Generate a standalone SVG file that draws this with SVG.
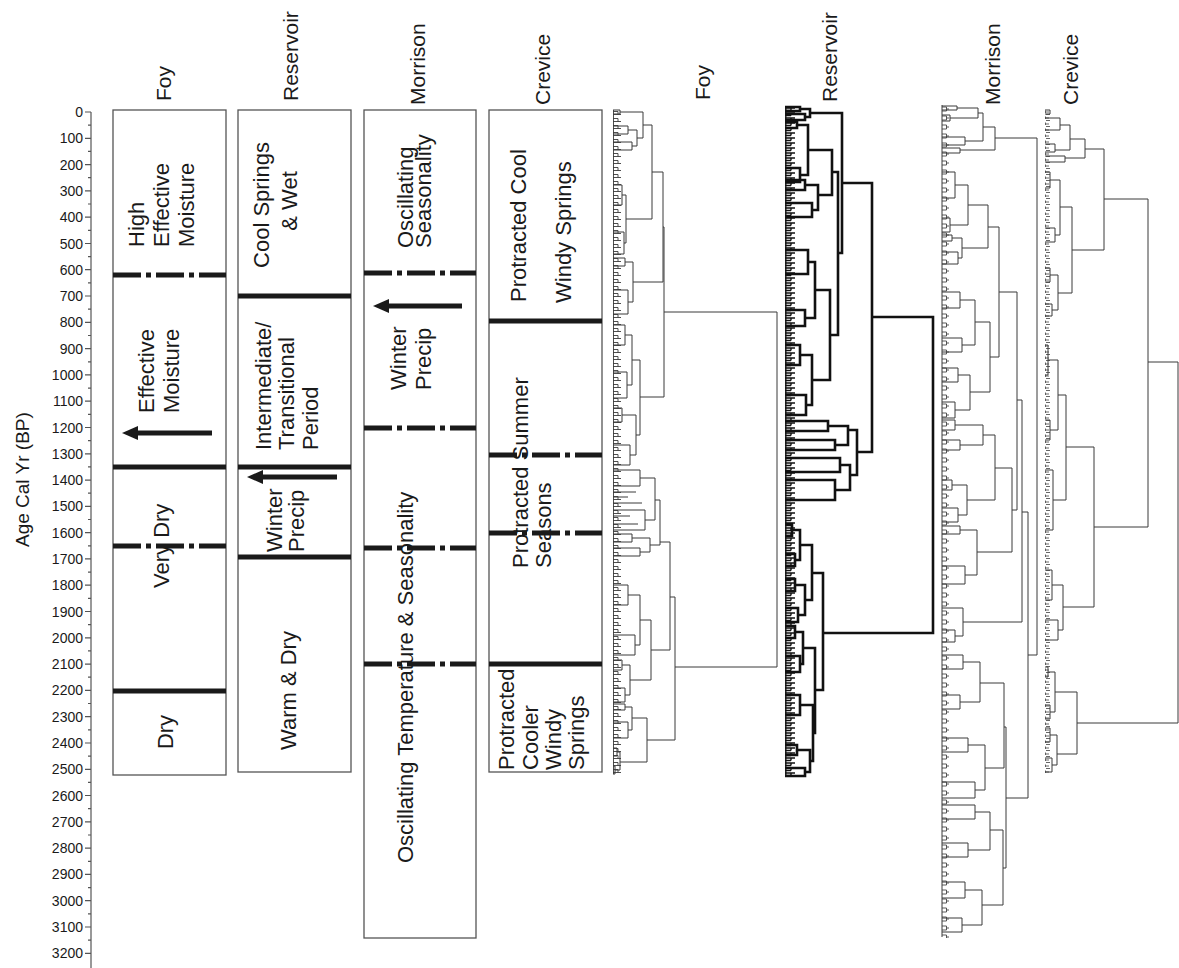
<svg xmlns="http://www.w3.org/2000/svg" width="1179" height="968" viewBox="0 0 1179 968">
<style>
.bg{fill:#fff}
.box{fill:#fff;stroke:#555;stroke-width:1.3}
.solid{stroke:#1a1a1a;stroke-width:5;fill:none}
.dd{stroke:#1a1a1a;stroke-width:5;stroke-dasharray:28 5 5 5;fill:none}
.t{font-family:"Liberation Sans",Arial,sans-serif;font-size:22px;fill:#1a1a1a}
.m{text-anchor:middle}
.h{font-family:"Liberation Sans",Arial,sans-serif;font-size:21px;fill:#1a1a1a}
.ax{font-family:"Liberation Sans Narrow","Liberation Sans",Arial,sans-serif;font-size:14px;fill:#1a1a1a;text-anchor:end}
.tick{stroke:#555;stroke-width:1.2;fill:none}
.dg{fill:none;stroke:#3a3a3a;stroke-width:1}
.dgR{fill:none;stroke:#111;stroke-width:2.6}
.arr{stroke:#1a1a1a;stroke-width:5}
.ah{fill:#1a1a1a}
</style>
<defs>
<pattern id="pFoy" patternUnits="userSpaceOnUse" x="613" y="110" width="9" height="7">
<path d="M0.5 0V7M0 1.5H5M0 4.5H8M5 1.5V4.5" fill="none" stroke="#3a3a3a" stroke-width="0.9"/>
</pattern>
<pattern id="pRes" patternUnits="userSpaceOnUse" x="785" y="107" width="14" height="5">
<path d="M0 1H10M0 3.5H6M6 1V3.5M0.8 0V5" fill="none" stroke="#111" stroke-width="1.4"/>
</pattern>
<pattern id="pMor" patternUnits="userSpaceOnUse" x="942" y="105" width="8" height="9">
<path d="M0 2H4.5M0 6H4.5M4.5 2V6M4.5 4H7" fill="none" stroke="#444" stroke-width="0.9"/>
</pattern>
<pattern id="pCre" patternUnits="userSpaceOnUse" x="1045" y="110" width="7" height="6">
<path d="M0.5 0.5V3M0 2H4M1 4.5H5" fill="none" stroke="#555" stroke-width="0.9"/>
</pattern>
</defs>
<rect class="bg" x="0" y="0" width="1179" height="968"/>

<g id="axis">
<path class="tick" d="M91 112V968"/>
<path class="tick" d="M85 112H91M85 138.3H91M85 164.6H91M85 190.9H91M85 217.2H91M85 243.5H91M85 269.7H91M85 296H91M85 322.3H91M85 348.6H91M85 374.9H91M85 401.2H91M85 427.5H91M85 453.8H91M85 480.1H91M85 506.4H91M85 532.6H91M85 558.9H91M85 585.2H91M85 611.5H91M85 637.8H91M85 664.1H91M85 690.4H91M85 716.7H91M85 743H91M85 769.3H91M85 795.5H91M85 821.8H91M85 848.1H91M85 874.4H91M85 900.7H91M85 927H91M85 953.3H91"/>
<path class="tick" d="M88 125.1H91M88 151.4H91M88 177.7H91M88 204H91M88 230.3H91M88 256.6H91M88 282.9H91M88 309.2H91M88 335.5H91M88 361.8H91M88 388.1H91M88 414.3H91M88 440.6H91M88 466.9H91M88 493.2H91M88 519.5H91M88 545.8H91M88 572.1H91M88 598.4H91M88 624.6H91M88 650.9H91M88 677.2H91M88 703.5H91M88 729.8H91M88 756.1H91M88 782.4H91M88 808.7H91M88 835H91M88 861.3H91M88 887.6H91M88 913.8H91M88 940.1H91"/>
<text class="ax" x="83" y="117">0</text>
<text class="ax" x="83" y="143.3">100</text>
<text class="ax" x="83" y="169.6">200</text>
<text class="ax" x="83" y="195.9">300</text>
<text class="ax" x="83" y="222.2">400</text>
<text class="ax" x="83" y="248.5">500</text>
<text class="ax" x="83" y="274.7">600</text>
<text class="ax" x="83" y="301">700</text>
<text class="ax" x="83" y="327.3">800</text>
<text class="ax" x="83" y="353.6">900</text>
<text class="ax" x="83" y="379.9">1000</text>
<text class="ax" x="83" y="406.2">1100</text>
<text class="ax" x="83" y="432.5">1200</text>
<text class="ax" x="83" y="458.8">1300</text>
<text class="ax" x="83" y="485.1">1400</text>
<text class="ax" x="83" y="511.4">1500</text>
<text class="ax" x="83" y="537.6">1600</text>
<text class="ax" x="83" y="563.9">1700</text>
<text class="ax" x="83" y="590.2">1800</text>
<text class="ax" x="83" y="616.5">1900</text>
<text class="ax" x="83" y="642.8">2000</text>
<text class="ax" x="83" y="669.1">2100</text>
<text class="ax" x="83" y="695.4">2200</text>
<text class="ax" x="83" y="721.7">2300</text>
<text class="ax" x="83" y="748">2400</text>
<text class="ax" x="83" y="774.3">2500</text>
<text class="ax" x="83" y="800.5">2600</text>
<text class="ax" x="83" y="826.8">2700</text>
<text class="ax" x="83" y="853.1">2800</text>
<text class="ax" x="83" y="879.4">2900</text>
<text class="ax" x="83" y="905.7">3000</text>
<text class="ax" x="83" y="932">3100</text>
<text class="ax" x="83" y="958.3">3200</text>
<text class="t" style="font-size:19px" transform="translate(29,547) rotate(-90)">Age Cal Yr (BP)</text>
</g>

<g id="col-foy">
<text class="h" transform="translate(171,101) rotate(-90)">Foy</text>
<rect class="box" x="113" y="110" width="113" height="665"/>
<path class="dd" d="M113 275H226"/>
<path class="solid" d="M113 467H226"/>
<path class="dd" d="M113 546H226"/>
<path class="solid" d="M113 691H226"/>
<text class="t" transform="translate(144,247) rotate(-90)">High</text>
<text class="t" transform="translate(169,247) rotate(-90)">Effective</text>
<text class="t" transform="translate(194,247) rotate(-90)">Moisture</text>
<text class="t" transform="translate(154,413) rotate(-90)">Effective</text>
<text class="t" transform="translate(179,413) rotate(-90)">Moisture</text>
<text class="t" transform="translate(169,588) rotate(-90)">Very Dry</text>
<text class="t m" transform="translate(173,732) rotate(-90)">Dry</text>
</g>

<g id="col-reservoir">
<text class="h" transform="translate(298,101) rotate(-90)">Reservoir</text>
<rect class="box" x="238" y="110" width="113" height="662"/>
<path class="solid" d="M238 296H351"/>
<path class="solid" d="M238 467H351"/>
<path class="solid" d="M238 557H351"/>
<text class="t m" transform="translate(269,205) rotate(-90)">Cool Springs</text>
<text class="t m" transform="translate(297,201) rotate(-90)">&amp; Wet</text>
<text class="t" transform="translate(271,450) rotate(-90)">Intermediate/</text>
<text class="t" transform="translate(294,450) rotate(-90)">Transitional</text>
<text class="t" transform="translate(318,450) rotate(-90)">Period</text>
<text class="t" transform="translate(282,552) rotate(-90)">Winter</text>
<text class="t" transform="translate(304,552) rotate(-90)">Precip</text>
<text class="t" transform="translate(296,750) rotate(-90)">Warm &amp; Dry</text>
</g>

<g id="col-morrison">
<text class="h" transform="translate(425,105) rotate(-90)">Morrison</text>
<rect class="box" x="364" y="110" width="112" height="828"/>
<path class="dd" d="M364 273H476"/>
<path class="dd" d="M364 428H476"/>
<path class="dd" d="M364 548H476"/>
<path class="dd" d="M364 664H476"/>
<text class="t" transform="translate(413,248) rotate(-90)">Oscillating</text>
<text class="t" transform="translate(431,248) rotate(-90)">Seasonality</text>
<text class="t" transform="translate(406,390) rotate(-90)">Winter</text>
<text class="t" transform="translate(431,390) rotate(-90)">Precip</text>
<text class="t" transform="translate(413,863) rotate(-90)">Oscillating Temperature &amp; Seasonality</text>
</g>

<g id="col-crevice">
<text class="h" transform="translate(550,105) rotate(-90)">Crevice</text>
<rect class="box" x="489" y="110" width="113" height="662"/>
<path class="solid" d="M489 321H602"/>
<path class="dd" d="M489 455H602"/>
<path class="dd" d="M489 533H602"/>
<path class="solid" d="M489 664H602"/>
<text class="t" transform="translate(526,302) rotate(-90)">Protracted Cool</text>
<text class="t" transform="translate(571,303) rotate(-90)">Windy Springs</text>
<text class="t" transform="translate(528,568) rotate(-90)">Protracted Summer</text>
<text class="t" transform="translate(551,568) rotate(-90)">Seasons</text>
<text class="t" transform="translate(514,770) rotate(-90)">Protracted</text>
<text class="t" transform="translate(538,770) rotate(-90)">Cooler</text>
<text class="t" transform="translate(561,770) rotate(-90)">Windy</text>
<text class="t" transform="translate(584,770) rotate(-90)">Springs</text>
</g>

<g id="connectors">
<path class="arr" d="M212 433H134"/>
<polygon class="ah" points="122,433 138,426 138,440"/>
<path class="arr" d="M337 477H259"/>
<polygon class="ah" points="247,477 263,470 263,484"/>
<path class="arr" d="M462 306H385"/>
<polygon class="ah" points="373,306 389,299 389,313"/>
</g>

<g id="dendro-foy">
<text class="h" transform="translate(710,100) rotate(-90)">Foy</text>
<rect x="613" y="110" width="9" height="664" fill="url(#pFoy)"/>
<path class="dg" d="M664 312H777V667H675
M663 227H664V397H640
M652 172H663V282H633
M643 125H652V219H626
M620 112H643V138H637
M613 110H620V114H613
M628 130H637V146H632
M613 126H628V134H613
M613 142H632V150H613
M622 195H626V243H624
M613 185H622V205H613
M613 232H624V254H613
M625 262H633V302H628
M613 258H625V266H613
M613 290H628V314H613
M632 360H640V435H636
M625 335H632V385H627
M613 325H625V345H613
M613 372H627V398H613
M622 415H636V455H630
M613 408H622V422H613
M613 445H630V465H613
M670 597H675V740H647
M660 542H670V650H651
M655 500H660V545H650
M640 478H655V520H645
M613 470H640V486H613
M613 510H645V530H613
M632 538H650V552H640
M613 534H632V542H613
M613 548H640V556H613
M613 492H636M613 497H628M613 503H642M613 516H630M613 524H638
M640 620H651V680H630
M628 595H640V645H635
M613 585H628V605H613
M613 635H635V655H613
M622 665H630V695H625
M613 660H622V670H613
M613 688H625V702H613
M632 718H647V762H620
M625 707H632V730H628
M613 704H625V710H613
M613 722H628V738H613
M617 752H620V770H615
M613 748H617V756H613
M613 766H615V774H613"/>
</g>

<g id="dendro-reservoir">
<text class="h" transform="translate(837,102) rotate(-90)">Reservoir</text>
<rect x="785" y="107" width="14" height="669" fill="url(#pRes)"/>
<path class="dgR" d="M872 317H933V633H823
M842 183H872V452H857
M810 113H842V253H838
M800 109H810V117H805
M785 107H800V111H785
M785 114H805V120H785
M832 172H838V335H830
M808 150H832V195H818
M797 125H808V175H800
M785 122H797V128H785
M785 168H800V182H785
M805 185H818V210H812
M785 180H805V190H785
M785 203H812V217H785
M815 290H830V380H812
M808 262H815V318H805
M785 250H808V274H785
M785 310H805V326H785
M800 355H812V405H806
M785 345H800V365H785
M785 395H806V415H785
M848 430H857V475H850
M828 426H848V445H835
M785 421H828V431H785
M785 440H835V450H785
M840 465H850V490H835
M785 458H840V472H785
M785 480H835V500H785
M812 573H823V690H815
M800 545H812V600H805
M792 530H800V560H795
M785 524H792V536H785
M785 554H795V566H785
M795 585H805V615H798
M785 579H795V591H785
M785 608H798V622H785
M803 648H815V733H813
M795 632H803V664H800
M785 626H795V638H785
M785 656H800V672H785
M800 705H813V761H810
M785 695H800V715H785
M797 750H810V772H805
M785 745H797V755H785
M785 768H805V776H785"/>
</g>

<g id="dendro-morrison">
<text class="h" transform="translate(1000,105) rotate(-90)">Morrison</text>
<rect x="942" y="105" width="8" height="833" fill="url(#pMor)"/>
<path class="dg" d="M942 105V937
M995 138H1037V655H1028
M983 127H995V150H960
M978 113H983V141H965
M957 108H978V118H950
M942 106H957V110H942
M942 115H950V121H942
M942 137H965V145H942
M942 148H960V153H942
M1022 512H1028V798H1006
M1017 400H1022V622H963
M999 292H1017V510H1012
M988 227H999V357H990
M968 205H988V248H962
M955 185H968V225H950
M942 172H955V198H942
M942 218H950V232H942
M952 238H962V258H958
M942 235H952V241H942
M942 252H958V264H942
M975 322H990V392H970
M960 300H975V345H962
M942 292H960V308H942
M942 338H962V352H942
M958 375H970V410H955
M942 368H958V382H942
M942 402H955V418H942
M995 468H1012V552H977
M983 435H995V500H967
M955 425H983V445H960
M942 420H955V430H942
M942 440H960V450H942
M952 485H967V515H958
M942 480H952V490H942
M942 508H958V522H942
M960 530H977V575H965
M942 526H960V534H942
M942 566H965V584H942
M942 608H963V636H955
M942 630H955V642H942
M1004 727H1006V868H1003
M980 683H1004V768H985
M963 662H980V702H960
M942 655H963V669H942
M942 695H960V709H942
M968 745H985V790H975
M942 738H968V752H942
M942 782H975V798H942
M990 830H1003V905H982
M975 812H990V850H968
M942 805H975V819H942
M942 843H968V857H942
M965 890H982V925H962
M942 882H965V898H942
M942 918H962V932H942"/>
</g>

<g id="dendro-crevice">
<text class="h" transform="translate(1078,105) rotate(-90)">Crevice</text>
<rect x="1045" y="110" width="7" height="663" fill="url(#pCre)"/>
<path class="dg" d="M1148 362H1178V723H1077
M1104 199H1148V527H1094
M1085 149H1104V250H1072
M1070 139H1085V158H1065
M1060 125H1070V150H1055
M1045 118H1060V130H1045
M1045 144H1055V152H1045
M1045 156H1065V162H1045
M1045 110H1050V114H1045
M1060 207H1072V293H1058
M1050 180H1060V235H1055
M1045 172H1050V188H1045
M1045 228H1055V242H1045
M1050 275H1058V310H1052
M1045 268H1050V282H1045
M1045 304H1052V316H1045
M1066 447H1094V607H1063
M1058 395H1066V500H1053
M1048 360H1058V430H1050
M1045 345H1048V375H1045
M1045 420H1050V440H1045
M1045 470H1053V530H1045
M1052 585H1063V630H1058
M1045 570H1052V600H1045
M1045 620H1058V640H1045
M1055 692H1077V754H1057
M1048 672H1055V712H1050
M1045 667H1048V677H1045
M1045 705H1050V719H1045
M1050 735H1057V765H1052
M1045 728H1050V742H1045
M1045 758H1052V772H1045"/>
</g>
</svg>
